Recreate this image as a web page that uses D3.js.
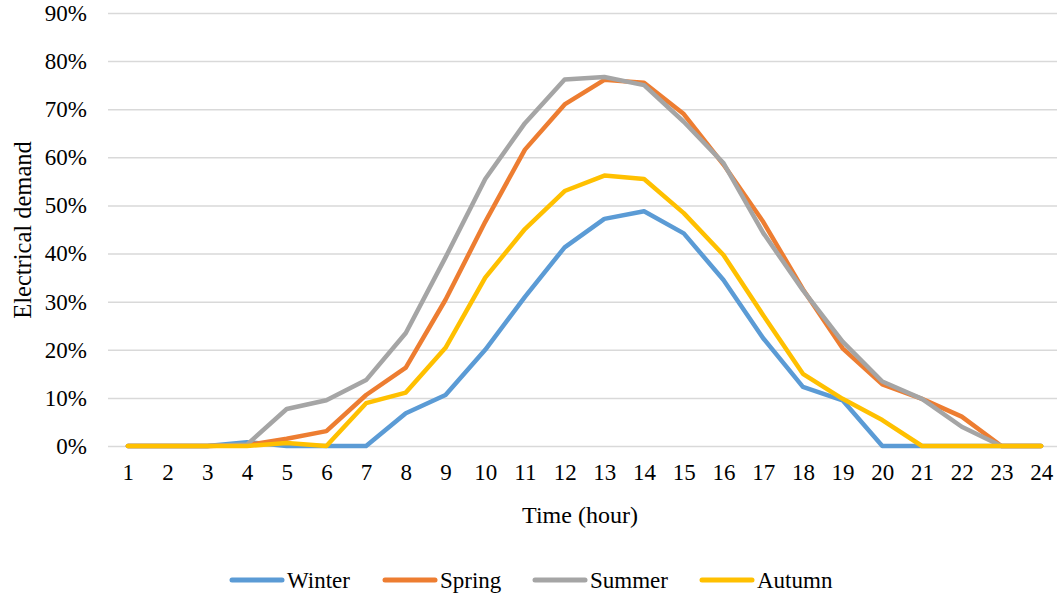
<!DOCTYPE html>
<html>
<head>
<meta charset="utf-8">
<script src="https://cdn.jsdelivr.net/npm/d3@7"></script>
<style>
  html, body { margin: 0; padding: 0; background: #fff; }
  svg { display: block; }
  text { font-family: "Times New Roman", "Liberation Serif", serif; fill: #000; }
</style>
</head>
<body>
<svg id="chart" width="1057" height="597"></svg>
<script>
// Hours of the day
const hours = d3.range(1, 25);

// Share of electrical demand per hour (%), by season
const winter = [0, 0, 0, 0.8, 0, 0, 0, 6.8, 10.6, 20.0, 31.0, 41.3, 47.2, 48.8, 44.2, 34.5, 22.4, 12.3, 9.5, 0, 0, 0, 0, 0];
const spring = [0, 0, 0, 0.2, 1.5, 3.1, 10.6, 16.3, 30.4, 46.6, 61.6, 71.0, 76.1, 75.5, 69.0, 58.5, 46.6, 32.6, 20.3, 12.8, 9.8, 6.1, 0, 0];
const summer = [0, 0, 0, 0.3, 7.7, 9.5, 13.7, 23.5, 39.2, 55.5, 67.1, 76.2, 76.7, 75.0, 67.4, 58.8, 44.3, 32.4, 21.7, 13.4, 9.8, 4.0, 0, 0];
const autumn = [0, 0, 0, 0, 0.6, 0, 8.9, 11.1, 20.4, 35.0, 45.1, 53.0, 56.2, 55.5, 48.4, 39.7, 27.2, 15.0, 9.8, 5.4, 0, 0, 0, 0];

const seriesNames = ["Winter", "Spring", "Summer", "Autumn"];
const seriesValues = [winter, spring, summer, autumn];
const seriesColors = ["#5B9BD5", "#ED7D31", "#A5A5A5", "#FFC000"];

const yTicks = d3.range(0, 91, 10);

const FONT = "'Times New Roman', 'Liberation Serif', serif";
const svg = d3.select("#chart");
const plot = { left: 108, right: 1061, top: 13, bottom: 446 };

const x = d3.scalePoint().domain(hours).range([plot.left, plot.right]).padding(0.5);
const y = d3.scaleLinear().domain([0, 90]).range([plot.bottom, plot.top]);

// Horizontal gridlines and percentage labels
const yAxis = d3.axisLeft(y)
  .tickValues(yTicks)
  .tickSize(-(plot.right - plot.left))
  .tickPadding(21)
  .tickFormat(d => d + "%");

const gy = svg.append("g")
  .attr("transform", `translate(${plot.left},0)`)
  .call(yAxis);
gy.select(".domain").remove();
gy.selectAll(".tick line").attr("stroke", "#D9D9D9").attr("stroke-width", 1.5);
gy.selectAll(".tick text")
  .style("font-size", "23px").style("font-family", FONT).style("fill", "#000");

// Hour labels along the bottom
const xAxis = d3.axisBottom(x).tickSize(0).tickPadding(18);
const gx = svg.append("g")
  .attr("transform", `translate(0,${plot.bottom})`)
  .call(xAxis);
gx.select(".domain").remove();
gx.selectAll(".tick text")
  .style("font-size", "23px").style("font-family", FONT).style("fill", "#000");

// Season lines
const line = d3.line()
  .x((d, i) => x(hours[i]))
  .y(d => y(d));

seriesValues.forEach((vals, k) => {
  svg.append("path")
    .datum(vals)
    .attr("fill", "none")
    .attr("stroke", seriesColors[k])
    .attr("stroke-width", 4.5)
    .attr("stroke-linejoin", "round")
    .attr("stroke-linecap", "round")
    .attr("d", line);
});

// Axis titles
svg.append("text")
  .attr("x", 580)
  .attr("y", 523)
  .attr("text-anchor", "middle")
  .style("font-size", "24px").style("font-family", FONT)
  .text("Time (hour)");

svg.append("text")
  .attr("transform", "translate(31,230) rotate(-90)")
  .attr("text-anchor", "middle")
  .style("font-size", "24.5px").style("font-family", FONT)
  .text("Electrical demand");

// Legend
const legendX = [230, 383, 533, 700];
const legend = svg.append("g").attr("transform", "translate(0,580)");
seriesNames.forEach((name, k) => {
  const lx = legendX[k];
  legend.append("line")
    .attr("x1", lx + 2).attr("x2", lx + 52)
    .attr("y1", 0).attr("y2", 0)
    .attr("stroke", seriesColors[k])
    .attr("stroke-width", 5)
    .attr("stroke-linecap", "round");
  legend.append("text")
    .attr("x", lx + 57)
    .attr("y", 8)
    .style("font-size", "23px").style("font-family", FONT)
    .text(name);
});
</script>
</body>
</html>
